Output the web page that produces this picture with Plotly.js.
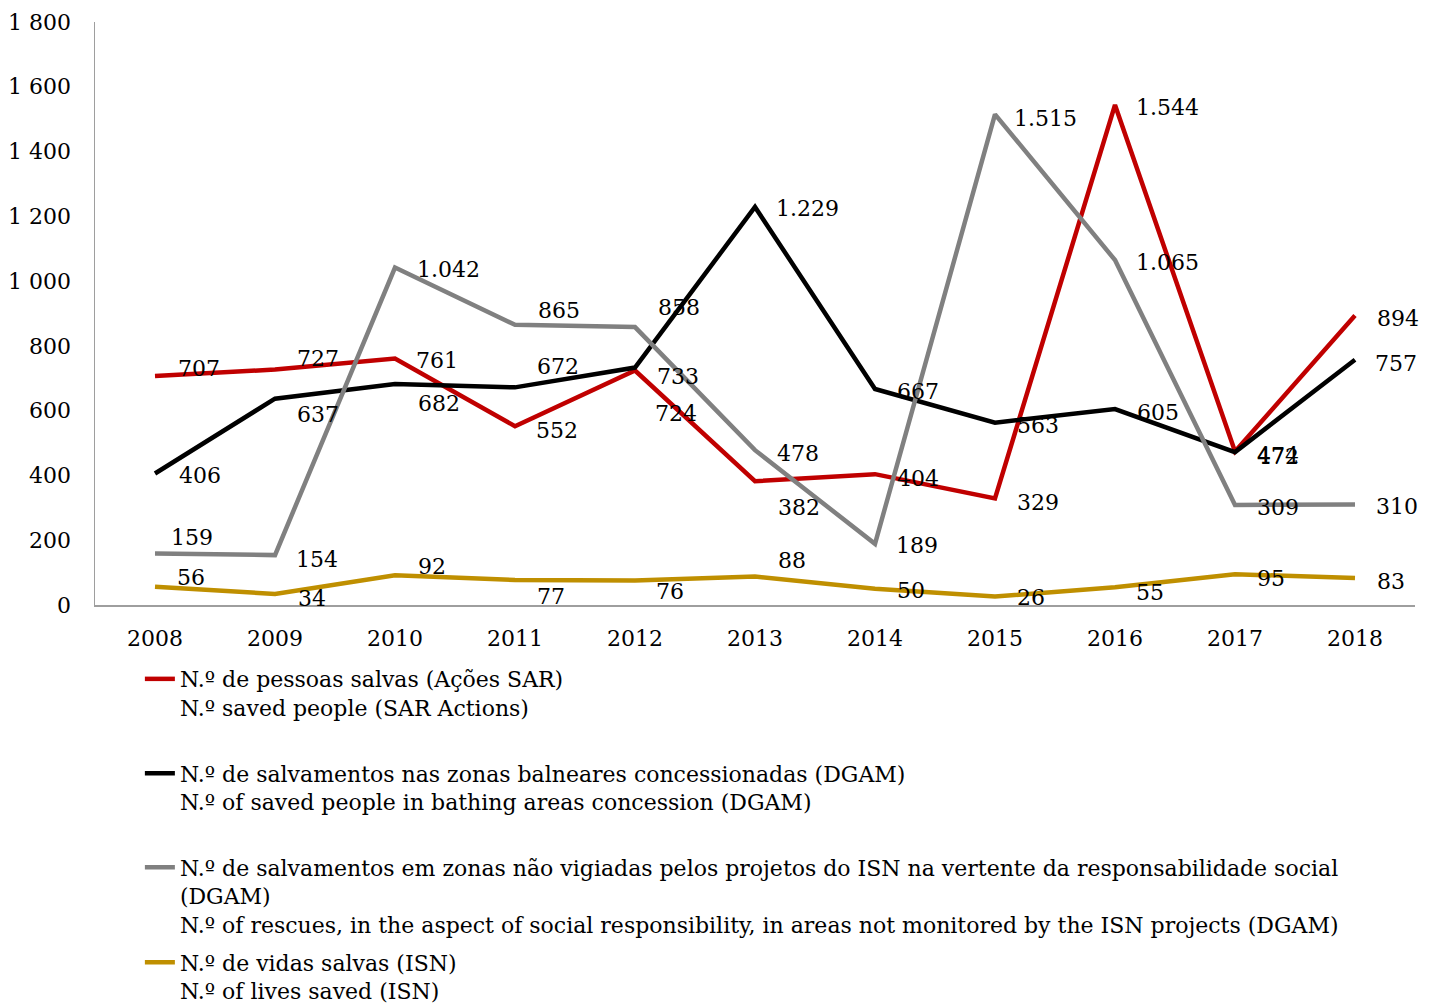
<!DOCTYPE html>
<html>
<head>
<meta charset="utf-8">
<script src="https://cdn.plot.ly/plotly-3.0.1.min.js"></script>
<style>
  html, body { margin: 0; padding: 0; background: #ffffff; }
  #chart { width: 1437px; height: 1005px; }
</style>
</head>
<body>
<div id="chart"></div>
<script>
// Years on the horizontal axis
const years = ['2008', '2009', '2010', '2011', '2012', '2013', '2014', '2015', '2016', '2017', '2018'];

// N.º de pessoas salvas (Ações SAR)
const sarPeople = [707, 727, 761, 552, 724, 382, 404, 329, 1544, 474, 894];
// N.º de salvamentos nas zonas balneares concessionadas (DGAM)
const dgamBathing = [406, 637, 682, 672, 733, 1229, 667, 563, 605, 472, 757];
// N.º de salvamentos em zonas não vigiadas (responsabilidade social, DGAM)
const dgamSocial = [159, 154, 1042, 865, 858, 478, 189, 1515, 1065, 309, 310];
// N.º de vidas salvas (ISN)
const isnLives = [56, 34, 92, 77, 76, 88, 50, 26, 55, 95, 83];

// Series names (two-language legend text)
const seriesNames = [
  'N.º de pessoas salvas (Ações SAR)<br>N.º saved people (SAR Actions)',
  'N.º de salvamentos nas zonas balneares concessionadas (DGAM)<br>N.º of saved people in bathing areas concession (DGAM)',
  'N.º de salvamentos em zonas não vigiadas pelos projetos do ISN na vertente da responsabilidade social<br>(DGAM)<br>N.º of rescues, in the aspect of social responsibility, in areas not monitored by the ISN projects (DGAM)',
  'N.º de vidas salvas (ISN)<br>N.º of lives saved (ISN)'
];

// Label offsets in pixels from each point: [dx, dy] (dy positive = downward)
const sarOffsets = [[44,-8],[43,-11],[42,2],[42,4],[41,43],[44,26],[43,4],[43,4],[52,3],[43,4],[43,3]];
const bathingOffsets = [[45,2],[43,16],[44,19],[43,-21],[43,9],[52,2],[43,3],[43,3],[43,3],[43,4],[41,4]];
const socialOffsets = [[37,-16],[42,4],[53,2],[44,-14],[44,-20],[43,3],[42,2],[50,4],[52,2],[43,3],[42,2]];
const livesOffsets = [[36,-9],[37,5],[37,-9],[36,16],[35,11],[37,-16],[36,2],[36,1],[35,5],[36,4],[36,3]];

const FONT = 'DejaVu Serif, Georgia, serif';
const FONT_SIZE = 22;
const seriesValues = [sarPeople, dgamBathing, dgamSocial, isnLives];
const seriesColors = ['#C00000', '#000000', '#808080', '#BF8F00'];
const seriesOffsets = [sarOffsets, bathingOffsets, socialOffsets, livesOffsets];
const legendIds = ['legend', 'legend2', 'legend3', 'legend4'];

// Thousands written with a dot, as in the data labels
function fmtLabel(v) {
  return String(v).replace(/\B(?=(\d{3})+(?!\d))/g, '.');
}

const traces = seriesValues.map((vals, i) => ({
  type: 'scatter',
  mode: 'lines',
  x: years,
  y: vals,
  name: seriesNames[i],
  legend: legendIds[i],
  line: { color: seriesColors[i], width: 4.5 },
  hoverinfo: 'x+y'
}));

// Value labels: x is the category index on the category axis
const annotations = [];
seriesValues.forEach((vals, i) => {
  vals.forEach((v, j) => {
    annotations.push({
      x: j, y: v, xref: 'x', yref: 'y',
      text: fmtLabel(v), showarrow: false,
      xanchor: 'center', yanchor: 'middle',
      xshift: seriesOffsets[i][j][0], yshift: -seriesOffsets[i][j][1],
      font: { family: FONT, size: FONT_SIZE, color: '#000000' }
    });
  });
});

const legendFont = { family: FONT, size: FONT_SIZE, color: '#000000' };
const legendBase = {
  xanchor: 'left', yanchor: 'top', valign: 'top',
  bgcolor: 'rgba(0,0,0,0)', borderwidth: 0, font: legendFont
};
const legendTops = [-0.091, -0.253, -0.414, -0.577];

const layout = {
  width: 1437, height: 1005,
  margin: { l: 95, r: 22, t: 22, b: 400, autoexpand: false },
  paper_bgcolor: '#ffffff', plot_bgcolor: '#ffffff',
  font: { family: FONT, size: FONT_SIZE, color: '#000000' },
  separators: '. ',
  showlegend: true,
  xaxis: {
    type: 'category', range: [-0.5, 10.5],
    showgrid: false, zeroline: false,
    showline: true, linecolor: '#9E9E9E', linewidth: 1.5,
    ticks: '', ticklabelstandoff: 13,
    tickfont: { family: FONT, size: FONT_SIZE, color: '#000000' }
  },
  yaxis: {
    range: [0, 1800], dtick: 200, tick0: 0,
    showgrid: false, zeroline: false,
    showline: true, linecolor: '#9E9E9E', linewidth: 1.5,
    ticks: '', ticklabelstandoff: 18, separatethousands: true,
    tickfont: { family: FONT, size: FONT_SIZE, color: '#000000' }
  },
  annotations: annotations
};
legendIds.forEach((id, i) => {
  layout[id] = Object.assign({}, legendBase, { x: 0.034, y: legendTops[i] });
});

Plotly.newPlot('chart', traces, layout, { displayModeBar: false, staticPlot: true });
</script>
</body>
</html>
